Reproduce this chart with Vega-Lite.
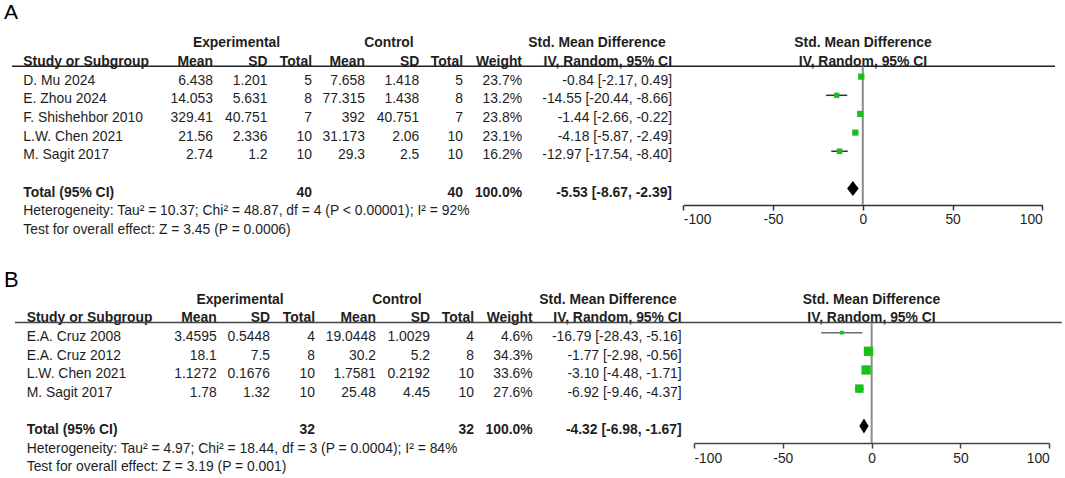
{
  "$schema": "https://vega.github.io/schema/vega-lite/v6.json",
  "background": "white",
  "padding": 0,
  "spacing": 0,
  "config": {
    "view": {"stroke": null},
    "text": {"font": "Liberation Sans", "fontSize": 13.9, "color": "#1e1e1e", "baseline": "middle"}
  },
  "datasets": {
    "a_rows": [
      {"kind": "study", "study": "D. Mu 2024", "e_mean": 6.438, "e_sd": 1.201, "e_n": 5, "c_mean": 7.658, "c_sd": 1.418, "c_n": 5, "weight": 0.237, "ci": "-0.84 [-2.17, 0.49]", "smd": -0.84, "lo": -2.17, "hi": 0.49, "row": 1},
      {"kind": "study", "study": "E. Zhou 2024", "e_mean": 14.053, "e_sd": 5.631, "e_n": 8, "c_mean": 77.315, "c_sd": 1.438, "c_n": 8, "weight": 0.132, "ci": "-14.55 [-20.44, -8.66]", "smd": -14.55, "lo": -20.44, "hi": -8.66, "row": 2},
      {"kind": "study", "study": "F. Shishehbor 2010", "e_mean": 329.41, "e_sd": 40.751, "e_n": 7, "c_mean": 392, "c_sd": 40.751, "c_n": 7, "weight": 0.238, "ci": "-1.44 [-2.66, -0.22]", "smd": -1.44, "lo": -2.66, "hi": -0.22, "row": 3},
      {"kind": "study", "study": "L.W. Chen 2021", "e_mean": 21.56, "e_sd": 2.336, "e_n": 10, "c_mean": 31.173, "c_sd": 2.06, "c_n": 10, "weight": 0.231, "ci": "-4.18 [-5.87, -2.49]", "smd": -4.18, "lo": -5.87, "hi": -2.49, "row": 4},
      {"kind": "study", "study": "M. Sagit 2017", "e_mean": 2.74, "e_sd": 1.2, "e_n": 10, "c_mean": 29.3, "c_sd": 2.5, "c_n": 10, "weight": 0.162, "ci": "-12.97 [-17.54, -8.40]", "smd": -12.97, "lo": -17.54, "hi": -8.4, "row": 5},
      {"kind": "total", "study": "Total (95% CI)", "e_n": 40, "c_n": 40, "weight": 1.0, "ci": "-5.53 [-8.67, -2.39]", "smd": -5.53, "lo": -8.67, "hi": -2.39, "row": 7}
    ],
    "a_head": [
      {"text": "A", "row": -2.65, "col": 0},
      {"text": "Experimental", "row": -1, "col": 4},
      {"text": "Control", "row": -1, "col": 8},
      {"text": "Std. Mean Difference", "row": -1, "col": 12},
      {"text": "Std. Mean Difference", "row": -1, "col": 14},
      {"text": "Study or Subgroup", "row": 0, "col": 2},
      {"text": "Mean", "row": 0, "col": 3},
      {"text": "SD", "row": 0, "col": 5},
      {"text": "Total", "row": 0, "col": 6},
      {"text": "Mean", "row": 0, "col": 7},
      {"text": "SD", "row": 0, "col": 9},
      {"text": "Total", "row": 0, "col": 10},
      {"text": "Weight", "row": 0, "col": 11},
      {"text": "IV, Random, 95% CI", "row": 0, "col": 13},
      {"text": "IV, Random, 95% CI", "row": 0, "col": 14}
    ],
    "a_notes": [
      {"text": "Heterogeneity: Tau² = 10.37; Chi² = 48.87, df = 4 (P < 0.00001); I² = 92%", "row": 8},
      {"text": "Test for overall effect: Z = 3.45 (P = 0.0006)", "row": 9}
    ],
    "b_rows": [
      {"kind": "study", "study": "E.A. Cruz 2008", "e_mean": 3.4595, "e_sd": 0.5448, "e_n": 4, "c_mean": 19.0448, "c_sd": 1.0029, "c_n": 4, "weight": 0.046, "ci": "-16.79 [-28.43, -5.16]", "smd": -16.79, "lo": -28.43, "hi": -5.16, "row": 1},
      {"kind": "study", "study": "E.A. Cruz 2012", "e_mean": 18.1, "e_sd": 7.5, "e_n": 8, "c_mean": 30.2, "c_sd": 5.2, "c_n": 8, "weight": 0.343, "ci": "-1.77 [-2.98, -0.56]", "smd": -1.77, "lo": -2.98, "hi": -0.56, "row": 2},
      {"kind": "study", "study": "L.W. Chen 2021", "e_mean": 1.1272, "e_sd": 0.1676, "e_n": 10, "c_mean": 1.7581, "c_sd": 0.2192, "c_n": 10, "weight": 0.336, "ci": "-3.10 [-4.48, -1.71]", "smd": -3.1, "lo": -4.48, "hi": -1.71, "row": 3},
      {"kind": "study", "study": "M. Sagit 2017", "e_mean": 1.78, "e_sd": 1.32, "e_n": 10, "c_mean": 25.48, "c_sd": 4.45, "c_n": 10, "weight": 0.276, "ci": "-6.92 [-9.46, -4.37]", "smd": -6.92, "lo": -9.46, "hi": -4.37, "row": 4},
      {"kind": "total", "study": "Total (95% CI)", "e_n": 32, "c_n": 32, "weight": 1.0, "ci": "-4.32 [-6.98, -1.67]", "smd": -4.32, "lo": -6.98, "hi": -1.67, "row": 6}
    ],
    "b_head": [
      {"text": "B", "row": -2.05, "col": 0},
      {"text": "Experimental", "row": -1, "col": 4},
      {"text": "Control", "row": -1, "col": 8},
      {"text": "Std. Mean Difference", "row": -1, "col": 12},
      {"text": "Std. Mean Difference", "row": -1, "col": 14},
      {"text": "Study or Subgroup", "row": 0, "col": 2},
      {"text": "Mean", "row": 0, "col": 3},
      {"text": "SD", "row": 0, "col": 5},
      {"text": "Total", "row": 0, "col": 6},
      {"text": "Mean", "row": 0, "col": 7},
      {"text": "SD", "row": 0, "col": 9},
      {"text": "Total", "row": 0, "col": 10},
      {"text": "Weight", "row": 0, "col": 11},
      {"text": "IV, Random, 95% CI", "row": 0, "col": 13},
      {"text": "IV, Random, 95% CI", "row": 0, "col": 14}
    ],
    "b_notes": [
      {"text": "Heterogeneity: Tau² = 4.97; Chi² = 18.44, df = 3 (P = 0.0004); I² = 84%", "row": 7},
      {"text": "Test for overall effect: Z = 3.19 (P = 0.001)", "row": 8}
    ]
  },
  "vconcat": [
    {
      "width": 1065,
      "height": 240,
      "data": {"name": "a_rows"},
      "layer": [
        {
          "layer": [
            {"data": {"name": "a_head"}, "transform": [{"filter": "datum.col == 0"}], "mark": {"type": "text", "align": "left", "fontSize": 21, "color": "#000000"},
             "encoding": {"x": {"field": "col", "type": "quantitative", "scale": {"type": "linear", "domain": [0,1,2,3,4,5,6,7,8,9,10,11,12,13,14,15], "range": [4,12,23.3,213,236.5,267.5,312,365,389,419.3,463,522,597,672,863,1055], "nice": false, "zero": false}, "axis": null},
                          "y": {"field": "row", "type": "quantitative", "scale": {"type": "linear", "domain": [-3.324, 9.544], "range": [0, 240], "nice": false, "zero": false}, "axis": null},
                          "text": {"field": "text"}}},
            {"data": {"name": "a_head"}, "transform": [{"filter": "datum.col == 2"}], "mark": {"type": "text", "align": "left", "fontWeight": "bold"},
             "encoding": {"x": {"field": "col", "type": "quantitative", "axis": null}, "y": {"field": "row", "type": "quantitative", "axis": null}, "text": {"field": "text"}}},
            {"data": {"name": "a_head"}, "transform": [{"filter": "indexof([4,8,12,14], datum.col) >= 0"}], "mark": {"type": "text", "align": "center", "fontWeight": "bold"},
             "encoding": {"x": {"field": "col", "type": "quantitative", "axis": null}, "y": {"field": "row", "type": "quantitative", "axis": null}, "text": {"field": "text"}}},
            {"data": {"name": "a_head"}, "transform": [{"filter": "indexof([3,5,6,7,9,10,11,13], datum.col) >= 0"}], "mark": {"type": "text", "align": "right", "fontWeight": "bold"},
             "encoding": {"x": {"field": "col", "type": "quantitative", "axis": null}, "y": {"field": "row", "type": "quantitative", "axis": null}, "text": {"field": "text"}}},
            {"data": {"values": [{}]}, "mark": {"type": "rule", "color": "#222222", "strokeWidth": 1.5},
             "encoding": {"x": {"datum": 1, "type": "quantitative", "axis": null}, "x2": {"datum": 15}, "y": {"datum": 0.225, "type": "quantitative", "axis": null}}},
            {"transform": [{"filter": "datum.kind == 'study'"}], "mark": {"type": "text", "align": "left"},
             "encoding": {"x": {"datum": 2, "type": "quantitative", "axis": null}, "y": {"field": "row", "type": "quantitative", "axis": null}, "text": {"field": "study", "type": "nominal"}}},
            {"transform": [{"filter": "datum.kind == 'study'"}], "mark": {"type": "text", "align": "right"},
             "encoding": {"x": {"datum": 3, "type": "quantitative", "axis": null}, "y": {"field": "row", "type": "quantitative", "axis": null}, "text": {"field": "e_mean", "type": "nominal"}}},
            {"transform": [{"filter": "datum.kind == 'study'"}], "mark": {"type": "text", "align": "right"},
             "encoding": {"x": {"datum": 5, "type": "quantitative", "axis": null}, "y": {"field": "row", "type": "quantitative", "axis": null}, "text": {"field": "e_sd", "type": "nominal"}}},
            {"transform": [{"filter": "datum.kind == 'study'"}], "mark": {"type": "text", "align": "right"},
             "encoding": {"x": {"datum": 6, "type": "quantitative", "axis": null}, "y": {"field": "row", "type": "quantitative", "axis": null}, "text": {"field": "e_n", "type": "nominal"}}},
            {"transform": [{"filter": "datum.kind == 'study'"}], "mark": {"type": "text", "align": "right"},
             "encoding": {"x": {"datum": 7, "type": "quantitative", "axis": null}, "y": {"field": "row", "type": "quantitative", "axis": null}, "text": {"field": "c_mean", "type": "nominal"}}},
            {"transform": [{"filter": "datum.kind == 'study'"}], "mark": {"type": "text", "align": "right"},
             "encoding": {"x": {"datum": 9, "type": "quantitative", "axis": null}, "y": {"field": "row", "type": "quantitative", "axis": null}, "text": {"field": "c_sd", "type": "nominal"}}},
            {"transform": [{"filter": "datum.kind == 'study'"}], "mark": {"type": "text", "align": "right"},
             "encoding": {"x": {"datum": 10, "type": "quantitative", "axis": null}, "y": {"field": "row", "type": "quantitative", "axis": null}, "text": {"field": "c_n", "type": "nominal"}}},
            {"transform": [{"filter": "datum.kind == 'study'"}], "mark": {"type": "text", "align": "right"},
             "encoding": {"x": {"datum": 11, "type": "quantitative", "axis": null}, "y": {"field": "row", "type": "quantitative", "axis": null}, "text": {"field": "weight", "type": "quantitative", "format": ".1%"}}},
            {"transform": [{"filter": "datum.kind == 'study'"}], "mark": {"type": "text", "align": "right"},
             "encoding": {"x": {"datum": 13, "type": "quantitative", "axis": null}, "y": {"field": "row", "type": "quantitative", "axis": null}, "text": {"field": "ci", "type": "nominal"}}},
            {"transform": [{"filter": "datum.kind == 'total'"}], "mark": {"type": "text", "align": "left", "fontWeight": "bold"},
             "encoding": {"x": {"datum": 2, "type": "quantitative", "axis": null}, "y": {"field": "row", "type": "quantitative", "axis": null}, "text": {"field": "study", "type": "nominal"}}},
            {"transform": [{"filter": "datum.kind == 'total'"}], "mark": {"type": "text", "align": "right", "fontWeight": "bold"},
             "encoding": {"x": {"datum": 6, "type": "quantitative", "axis": null}, "y": {"field": "row", "type": "quantitative", "axis": null}, "text": {"field": "e_n", "type": "nominal"}}},
            {"transform": [{"filter": "datum.kind == 'total'"}], "mark": {"type": "text", "align": "right", "fontWeight": "bold"},
             "encoding": {"x": {"datum": 10, "type": "quantitative", "axis": null}, "y": {"field": "row", "type": "quantitative", "axis": null}, "text": {"field": "c_n", "type": "nominal"}}},
            {"transform": [{"filter": "datum.kind == 'total'"}], "mark": {"type": "text", "align": "right", "fontWeight": "bold"},
             "encoding": {"x": {"datum": 11, "type": "quantitative", "axis": null}, "y": {"field": "row", "type": "quantitative", "axis": null}, "text": {"field": "weight", "type": "quantitative", "format": ".1%"}}},
            {"transform": [{"filter": "datum.kind == 'total'"}], "mark": {"type": "text", "align": "right", "fontWeight": "bold"},
             "encoding": {"x": {"datum": 13, "type": "quantitative", "axis": null}, "y": {"field": "row", "type": "quantitative", "axis": null}, "text": {"field": "ci", "type": "nominal"}}},
            {"data": {"name": "a_notes"}, "mark": {"type": "text", "align": "left"},
             "encoding": {"x": {"datum": 2, "type": "quantitative", "axis": null}, "y": {"field": "row", "type": "quantitative", "axis": null}, "text": {"field": "text", "type": "nominal"}}}
          ]
        },
        {
          "layer": [
            {"transform": [{"filter": "datum.kind == 'study'"}], "mark": {"type": "rule", "color": "#333333", "strokeWidth": 1.5},
             "encoding": {
               "x": {"field": "lo", "type": "quantitative", "scale": {"type": "linear", "domain": [-100, 100], "range": [683.3, 1042.3], "nice": false, "zero": false},
                     "axis": {"orient": "bottom", "values": [-100, -50, 0, 50, 100], "labelFlush": true, "labelExpr": "datum.value + ''", "offset": -35, "domainColor": "#333333", "domainWidth": 1.5, "tickColor": "#333333", "tickWidth": 1.5, "tickSize": 5, "labelPadding": 2.5, "labelFont": "Liberation Sans", "labelFontSize": 13.8, "labelColor": "#1e1e1e", "grid": false, "title": null}},
               "x2": {"field": "hi"},
               "y": {"field": "row", "type": "quantitative", "scale": {"type": "linear", "domain": [-3.324, 9.544], "range": [-4, 236], "nice": false, "zero": false}, "axis": null}}},
            {"data": {"values": [{}]}, "mark": {"type": "rule", "color": "#8c8c8c", "strokeWidth": 2},
             "encoding": {
               "x": {"datum": 0, "type": "quantitative"},
               "y": {"datum": 0.44, "type": "quantitative", "axis": null},
               "y2": {"datum": 7.88}}},
            {"transform": [{"filter": "datum.kind == 'study'"}], "mark": {"type": "point", "shape": "square", "filled": true, "color": "#16c216", "opacity": 1},
             "encoding": {"x": {"field": "smd", "type": "quantitative"}, "y": {"field": "row", "type": "quantitative", "axis": null},
                          "size": {"field": "weight", "type": "quantitative", "scale": {"type": "linear", "domain": [0.132, 0.238], "range": [28, 39]}, "legend": null}}},
            {"transform": [{"filter": "datum.kind == 'total'"}], "mark": {"type": "point", "shape": "M-0.77,0L0,-1L0.77,0L0,1Z", "filled": true, "color": "#000000", "size": 225, "opacity": 1},
             "encoding": {"x": {"field": "smd", "type": "quantitative"}, "y": {"field": "row", "type": "quantitative", "axis": null}}}
          ]
        }
      ],
      "resolve": {"scale": {"x": "independent", "y": "independent"}}
    },
    {
      "width": 1065,
      "height": 238,
      "data": {"name": "b_rows"},
      "layer": [
        {
          "layer": [
            {"data": {"name": "b_head"}, "transform": [{"filter": "datum.col == 0"}], "mark": {"type": "text", "align": "left", "fontSize": 22, "color": "#000000"},
             "encoding": {"x": {"field": "col", "type": "quantitative", "scale": {"type": "linear", "domain": [0,1,2,3,4,5,6,7,8,9,10,11,12,13,14,15], "range": [4,15,26.7,216.7,240,270,315,376,397,430,474,532.7,608,681.7,871.5,1061.7], "nice": false, "zero": false}, "axis": null},
                          "y": {"field": "row", "type": "quantitative", "scale": {"type": "linear", "domain": [-4.193, 8.568], "range": [0, 238], "nice": false, "zero": false}, "axis": null},
                          "text": {"field": "text"}}},
            {"data": {"name": "b_head"}, "transform": [{"filter": "datum.col == 2"}], "mark": {"type": "text", "align": "left", "fontWeight": "bold"},
             "encoding": {"x": {"field": "col", "type": "quantitative", "axis": null}, "y": {"field": "row", "type": "quantitative", "axis": null}, "text": {"field": "text"}}},
            {"data": {"name": "b_head"}, "transform": [{"filter": "indexof([4,8,12,14], datum.col) >= 0"}], "mark": {"type": "text", "align": "center", "fontWeight": "bold"},
             "encoding": {"x": {"field": "col", "type": "quantitative", "axis": null}, "y": {"field": "row", "type": "quantitative", "axis": null}, "text": {"field": "text"}}},
            {"data": {"name": "b_head"}, "transform": [{"filter": "indexof([3,5,6,7,9,10,11,13], datum.col) >= 0"}], "mark": {"type": "text", "align": "right", "fontWeight": "bold"},
             "encoding": {"x": {"field": "col", "type": "quantitative", "axis": null}, "y": {"field": "row", "type": "quantitative", "axis": null}, "text": {"field": "text"}}},
            {"data": {"values": [{}]}, "mark": {"type": "rule", "color": "#444444", "strokeWidth": 1.5},
             "encoding": {"x": {"datum": 1, "type": "quantitative", "axis": null}, "x2": {"datum": 15}, "y": {"datum": 0.23, "type": "quantitative", "axis": null}}},
            {"transform": [{"filter": "datum.kind == 'study'"}], "mark": {"type": "text", "align": "left"},
             "encoding": {"x": {"datum": 2, "type": "quantitative", "axis": null}, "y": {"field": "row", "type": "quantitative", "axis": null}, "text": {"field": "study", "type": "nominal"}}},
            {"transform": [{"filter": "datum.kind == 'study'"}], "mark": {"type": "text", "align": "right"},
             "encoding": {"x": {"datum": 3, "type": "quantitative", "axis": null}, "y": {"field": "row", "type": "quantitative", "axis": null}, "text": {"field": "e_mean", "type": "nominal"}}},
            {"transform": [{"filter": "datum.kind == 'study'"}], "mark": {"type": "text", "align": "right"},
             "encoding": {"x": {"datum": 5, "type": "quantitative", "axis": null}, "y": {"field": "row", "type": "quantitative", "axis": null}, "text": {"field": "e_sd", "type": "nominal"}}},
            {"transform": [{"filter": "datum.kind == 'study'"}], "mark": {"type": "text", "align": "right"},
             "encoding": {"x": {"datum": 6, "type": "quantitative", "axis": null}, "y": {"field": "row", "type": "quantitative", "axis": null}, "text": {"field": "e_n", "type": "nominal"}}},
            {"transform": [{"filter": "datum.kind == 'study'"}], "mark": {"type": "text", "align": "right"},
             "encoding": {"x": {"datum": 7, "type": "quantitative", "axis": null}, "y": {"field": "row", "type": "quantitative", "axis": null}, "text": {"field": "c_mean", "type": "nominal"}}},
            {"transform": [{"filter": "datum.kind == 'study'"}], "mark": {"type": "text", "align": "right"},
             "encoding": {"x": {"datum": 9, "type": "quantitative", "axis": null}, "y": {"field": "row", "type": "quantitative", "axis": null}, "text": {"field": "c_sd", "type": "nominal"}}},
            {"transform": [{"filter": "datum.kind == 'study'"}], "mark": {"type": "text", "align": "right"},
             "encoding": {"x": {"datum": 10, "type": "quantitative", "axis": null}, "y": {"field": "row", "type": "quantitative", "axis": null}, "text": {"field": "c_n", "type": "nominal"}}},
            {"transform": [{"filter": "datum.kind == 'study'"}], "mark": {"type": "text", "align": "right"},
             "encoding": {"x": {"datum": 11, "type": "quantitative", "axis": null}, "y": {"field": "row", "type": "quantitative", "axis": null}, "text": {"field": "weight", "type": "quantitative", "format": ".1%"}}},
            {"transform": [{"filter": "datum.kind == 'study'"}], "mark": {"type": "text", "align": "right"},
             "encoding": {"x": {"datum": 13, "type": "quantitative", "axis": null}, "y": {"field": "row", "type": "quantitative", "axis": null}, "text": {"field": "ci", "type": "nominal"}}},
            {"transform": [{"filter": "datum.kind == 'total'"}], "mark": {"type": "text", "align": "left", "fontWeight": "bold"},
             "encoding": {"x": {"datum": 2, "type": "quantitative", "axis": null}, "y": {"field": "row", "type": "quantitative", "axis": null}, "text": {"field": "study", "type": "nominal"}}},
            {"transform": [{"filter": "datum.kind == 'total'"}], "mark": {"type": "text", "align": "right", "fontWeight": "bold"},
             "encoding": {"x": {"datum": 6, "type": "quantitative", "axis": null}, "y": {"field": "row", "type": "quantitative", "axis": null}, "text": {"field": "e_n", "type": "nominal"}}},
            {"transform": [{"filter": "datum.kind == 'total'"}], "mark": {"type": "text", "align": "right", "fontWeight": "bold"},
             "encoding": {"x": {"datum": 10, "type": "quantitative", "axis": null}, "y": {"field": "row", "type": "quantitative", "axis": null}, "text": {"field": "c_n", "type": "nominal"}}},
            {"transform": [{"filter": "datum.kind == 'total'"}], "mark": {"type": "text", "align": "right", "fontWeight": "bold"},
             "encoding": {"x": {"datum": 11, "type": "quantitative", "axis": null}, "y": {"field": "row", "type": "quantitative", "axis": null}, "text": {"field": "weight", "type": "quantitative", "format": ".1%"}}},
            {"transform": [{"filter": "datum.kind == 'total'"}], "mark": {"type": "text", "align": "right", "fontWeight": "bold"},
             "encoding": {"x": {"datum": 13, "type": "quantitative", "axis": null}, "y": {"field": "row", "type": "quantitative", "axis": null}, "text": {"field": "ci", "type": "nominal"}}},
            {"data": {"name": "b_notes"}, "mark": {"type": "text", "align": "left"},
             "encoding": {"x": {"datum": 2, "type": "quantitative", "axis": null}, "y": {"field": "row", "type": "quantitative", "axis": null}, "text": {"field": "text", "type": "nominal"}}}
          ]
        },
        {
          "layer": [
            {"transform": [{"filter": "datum.kind == 'study'"}], "mark": {"type": "rule", "color": "#6e6e6e", "strokeWidth": 1.5},
             "encoding": {
               "x": {"field": "lo", "type": "quantitative", "scale": {"type": "linear", "domain": [-100, 100], "range": [694, 1049.3], "nice": false, "zero": false},
                     "axis": {"orient": "bottom", "values": [-100, -50, 0, 50, 100], "labelFlush": true, "labelExpr": "datum.value + ''", "offset": -35, "domainColor": "#444444", "domainWidth": 1.5, "tickColor": "#444444", "tickWidth": 1.5, "tickSize": 5, "labelPadding": 3.5, "labelFont": "Liberation Sans", "labelFontSize": 13.8, "labelColor": "#1e1e1e", "grid": false, "title": null}},
               "x2": {"field": "hi"},
               "y": {"field": "row", "type": "quantitative", "scale": {"type": "linear", "domain": [-4.193, 8.568], "range": [-4.2, 233.8], "nice": false, "zero": false}, "axis": null}}},
            {"data": {"values": [{}]}, "mark": {"type": "rule", "color": "#8c8c8c", "strokeWidth": 2},
             "encoding": {
               "x": {"datum": 0, "type": "quantitative"},
               "y": {"datum": 0.456, "type": "quantitative", "axis": null},
               "y2": {"datum": 6.917}}},
            {"transform": [{"filter": "datum.kind == 'study'"}], "mark": {"type": "point", "shape": "square", "filled": true, "color": "#16c216", "opacity": 1},
             "encoding": {"x": {"field": "smd", "type": "quantitative"}, "y": {"field": "row", "type": "quantitative", "axis": null},
                          "size": {"field": "weight", "type": "quantitative", "scale": {"type": "linear", "domain": [0.046, 0.343], "range": [14, 88]}, "legend": null}}},
            {"transform": [{"filter": "datum.kind == 'total'"}], "mark": {"type": "point", "shape": "M-0.62,0L0,-1L0.62,0L0,1Z", "filled": true, "color": "#000000", "size": 225, "opacity": 1},
             "encoding": {"x": {"field": "smd", "type": "quantitative"}, "y": {"field": "row", "type": "quantitative", "axis": null}}}
          ]
        }
      ],
      "resolve": {"scale": {"x": "independent", "y": "independent"}}
    }
  ],
  "resolve": {"scale": {"x": "independent", "y": "independent", "size": "independent"}}
}
